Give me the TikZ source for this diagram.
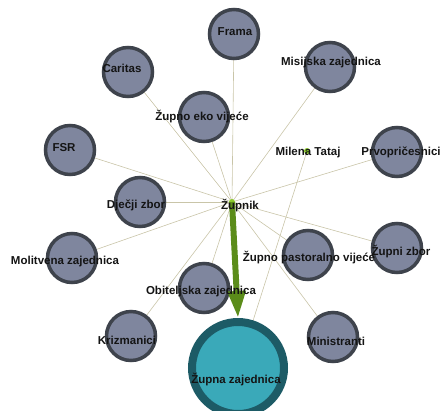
\documentclass[tikz,border=0pt]{standalone}
\usepackage{fontspec}
\setmainfont{Liberation Sans}
\usetikzlibrary{arrows.meta,backgrounds}
\definecolor{nodefill}{HTML}{7F869E}
\definecolor{nodeline}{HTML}{3E434C}
\definecolor{bigfill}{HTML}{3AA9B9}
\definecolor{bigline}{HTML}{1D5B66}
\definecolor{edgecol}{HTML}{C9C5A8}
\definecolor{arrowgreen}{HTML}{5B8C1A}
\definecolor{dotgreen}{HTML}{8CCC2C}
\definecolor{labcol}{HTML}{141414}
\tikzset{
  member/.style={circle,draw=nodeline,fill=nodefill,line width=3.5pt,minimum size=49pt,inner sep=0pt},
  bigmember/.style={circle,draw=bigline,fill=bigfill,line width=8pt,minimum size=92pt,inner sep=0pt},
  person/.style={circle,fill=dotgreen,minimum size=6pt,inner sep=0pt},
  lab/.style={font=\fontsize{11.5}{13}\selectfont\bfseries,text=labcol,inner sep=0pt},
  edge/.style={draw=edgecol,line width=0.6pt},
  flow/.style={draw=arrowgreen,line width=6pt,-{Triangle[width=17pt,length=27pt]}}
}
\begin{document}
\begin{tikzpicture}[x=1pt,y=-1pt]
\useasboundingbox (0,0) rectangle (441,410);
% circles
\node[member] (frama) at (234,34) {};
\node[member] (caritas) at (128,72) {};
\node[member] (misijska) at (330,67) {};
\node[member] (eko) at (204,117) {};
\node[member] (prvo) at (397,152) {};
\node[member] (fsr) at (70,150) {};
\node[member] (djecji) at (140,202) {};
\node[member] (molitvena) at (72,258) {};
\node[member] (zbor) at (397,248) {};
\node[member] (pastoralno) at (308,255) {};
\node[member] (obiteljska) at (204,288) {};
\node[member] (krizmanici) at (131,336) {};
\node[member] (ministranti) at (333,337) {};
\node[bigmember] (zz) at (238,368) {};
\node[person] (zupnik) at (232,202) {};
\node[person] (milena) at (307,151) {};
% connectors
\begin{scope}[on background layer]
\foreach \n in {frama,caritas,misijska,eko,prvo,fsr,djecji,molitvena,zbor,pastoralno,obiteljska,krizmanici,ministranti}
  \draw[edge] (zupnik.center) -- (\n.center);
\draw[edge] (milena.center) -- (zz.center);
\end{scope}
\draw[flow] (zupnik.center) -- (zz.north);
% labels
\node[lab] (frama-l) at (235,32) {Frama};
\node[lab] (caritas-l) at (122,68) {Caritas};
\node[lab] (misijska-l) at (331,63) {Misijska zajednica};
\node[lab] (eko-l) at (202,117) {Župno eko vijeće};
\node[lab] (milena-l) at (308,153) {Milena Tataj};
\node[lab] (prvo-l) at (401,152) {Prvopričesnici};
\node[lab] (fsr-l) at (64,148) {FSR};
\node[lab] (djecji-l) at (136,205) {Dječji zbor};
\node[lab] (zupnik-l) at (240,206) {Župnik};
\node[lab] (molitvena-l) at (65,262) {Molitvena zajednica};
\node[lab] (zbor-l) at (401,252) {Župni zbor};
\node[lab] (pastoralno-l) at (309,258) {Župno pastoralno vijeće};
\node[lab] (obiteljska-l) at (201,292) {Obiteljska zajednica};
\node[lab] (krizmanici-l) at (127,340) {Krizmanici};
\node[lab] (ministranti-l) at (336,341) {Ministranti};
\node[lab] (zz-l) at (236,380) {Župna zajednica};
\end{tikzpicture}
\end{document}
